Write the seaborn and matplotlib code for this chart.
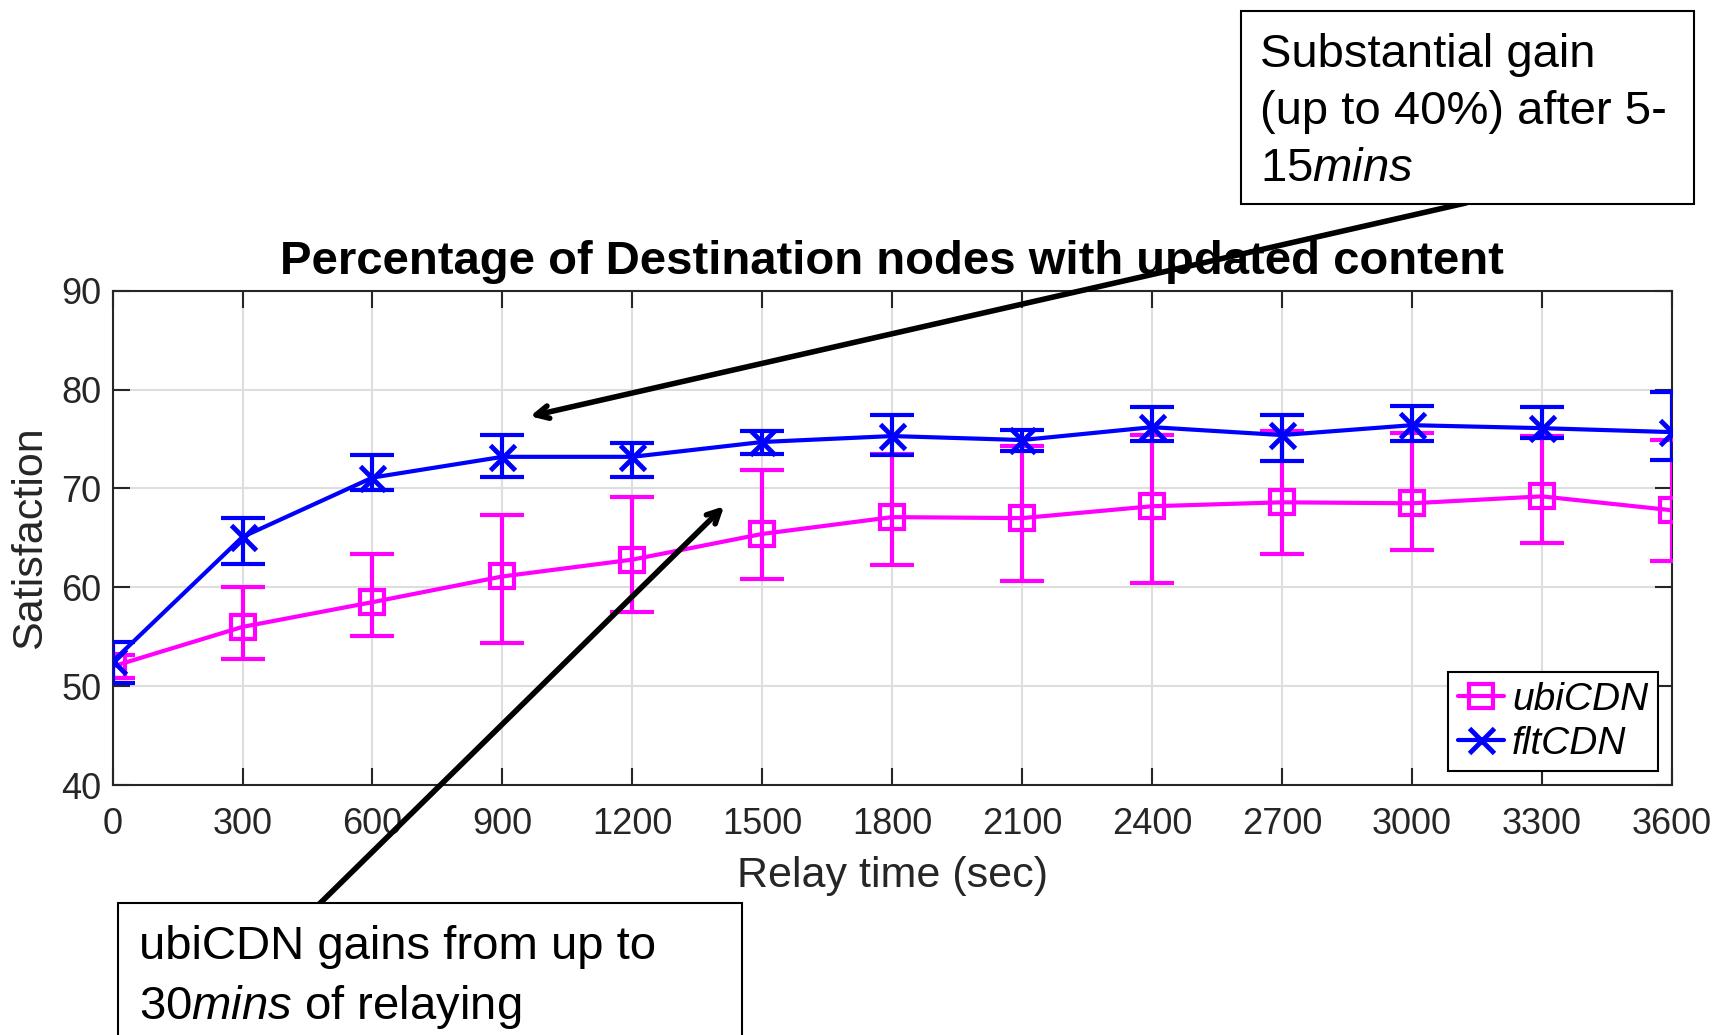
import matplotlib
matplotlib.use("Agg")
import matplotlib.pyplot as plt
import seaborn as sns
import numpy as np
from matplotlib.patches import Rectangle

# valores
tiempos = [0, 300, 600, 900, 1200, 1500, 1800, 2100, 2400, 2700, 3000, 3300, 3600]

ubi_media = [52.0, 56.0, 58.5, 61.1, 62.8, 65.4, 67.1, 67.0, 68.2, 68.6, 68.5, 69.2, 67.8]
ubi_bajo = [50.8, 52.7, 55.1, 54.4, 57.5, 60.8, 62.3, 60.6, 60.4, 63.4, 63.8, 64.5, 62.7]
ubi_alto = [53.2, 60.0, 63.4, 67.3, 69.1, 71.9, 73.5, 74.3, 75.4, 75.8, 75.6, 75.3, 74.9]

flt_media = [52.5, 65.1, 71.1, 73.2, 73.2, 74.7, 75.3, 74.9, 76.2, 75.4, 76.4, 76.1, 75.7]
flt_bajo = [50.3, 62.4, 69.8, 71.2, 71.2, 73.5, 73.4, 73.8, 74.8, 72.8, 74.8, 75.1, 72.9]
flt_alto = [54.5, 67.0, 73.4, 75.4, 74.6, 75.8, 77.4, 75.9, 78.2, 77.4, 78.3, 78.2, 79.8]

xticks = list(range(0, 3601, 300))
yticks = [40, 50, 60, 70, 80, 90]

sns.set_style("ticks")
plt.rcParams["font.family"] = ["Liberation Sans", "DejaVu Sans"]
plt.rcParams["mathtext.fontset"] = "custom"
plt.rcParams["mathtext.it"] = "Liberation Sans:italic"
plt.rcParams["mathtext.rm"] = "Liberation Sans"

fig = plt.figure(figsize=(17.17, 10.35), dpi=100)
ax = fig.add_axes([0.0656, 0.2415, 0.908, 0.4776])

magenta = "#FF00FF"
azul = "#0000FF"
gris = "#262626"

# barras de error y lineas
ub = np.array(ubi_media)
ax.errorbar(tiempos, ub, yerr=[ub - np.array(ubi_bajo), np.array(ubi_alto) - ub],
            fmt="none", ecolor=magenta, elinewidth=3, capsize=16, capthick=3, zorder=3)
sns.lineplot(x=tiempos, y=ubi_media, ax=ax, color=magenta, lw=3, marker="s",
             markersize=17, markerfacecolor="none", markeredgecolor=magenta,
             markeredgewidth=3, label="ubiCDN", zorder=4)

fl = np.array(flt_media)
ax.errorbar(tiempos, fl, yerr=[fl - np.array(flt_bajo), np.array(flt_alto) - fl],
            fmt="none", ecolor=azul, elinewidth=3, capsize=16, capthick=3, zorder=5)
sns.lineplot(x=tiempos, y=flt_media, ax=ax, color=azul, lw=3, marker="x",
             markersize=18, markeredgecolor=azul, markeredgewidth=3.5,
             label="fltCDN", zorder=6)

ax.set_xlim(0, 3600)
ax.set_ylim(40, 90)
ax.set_xticks(xticks)
ax.set_yticks(yticks)
ax.grid(True, color="#dedede", lw=1.5)
ax.tick_params(direction="in", length=12, width=1.5, top=True, right=True,
               labelsize=26, colors=gris)
ax.tick_params(axis="y", pad=8)
ax.tick_params(axis="x", pad=16)
for s in ax.spines.values():
    s.set_color(gris)
    s.set_linewidth(1.5)

ax.set_xlabel("Relay time (sec)", fontsize=31, color=gris, labelpad=10)
ax.set_ylabel("Satisfaction", fontsize=31, color=gris, labelpad=8)
ax.set_title("Percentage of Destination nodes with updated content",
             fontsize=34, fontweight="bold", color="black", pad=12)

leg = ax.legend(loc="lower right", frameon=True, fancybox=False,
                handlelength=1.2, handletextpad=0.2, borderpad=0.25,
                labelspacing=0.2, borderaxespad=0.35, prop={"style": "italic", "size": 28})
leg.get_frame().set_edgecolor("black")
leg.get_frame().set_linewidth(1.5)
leg.get_frame().set_alpha(1)
for t in leg.get_texts():
    t.set_color("black")

# cuadros de texto
fig.patches.append(Rectangle((0.7228, 0.8029), 0.2638, 0.1865, transform=fig.transFigure,
                             facecolor="white", edgecolor="black", lw=1.5, zorder=10))
fig.text(0.7339, 0.968, "Substantial gain\n(up to 40%) after 5-\n15$\\it{mins}$",
         fontsize=34, va="top", ha="left", linespacing=1.38, color="black", zorder=11)

fig.patches.append(Rectangle((0.0687, -0.05), 0.3634, 0.1775, transform=fig.transFigure,
                             facecolor="white", edgecolor="black", lw=1.5, zorder=10))
fig.text(0.081, 0.106, "ubiCDN gains from up to\n30$\\it{mins}$ of relaying",
         fontsize=34, va="top", ha="left", linespacing=1.38, color="black", zorder=11)

# flechas
ax.annotate("", xy=(964, 77.3), xycoords="data", xytext=(0.854, 0.804),
            textcoords="figure fraction", annotation_clip=False,
            arrowprops=dict(arrowstyle="->,head_length=0.9,head_width=0.45",
                            color="black", lw=4, shrinkA=0, shrinkB=0), zorder=12)
ax.annotate("", xy=(1412, 68.2), xycoords="data", xytext=(0.186, 0.1266),
            textcoords="figure fraction", annotation_clip=False,
            arrowprops=dict(arrowstyle="->,head_length=0.9,head_width=0.45",
                            color="black", lw=4, shrinkA=0, shrinkB=0), zorder=12)

plt.savefig("out.png", dpi=100)
